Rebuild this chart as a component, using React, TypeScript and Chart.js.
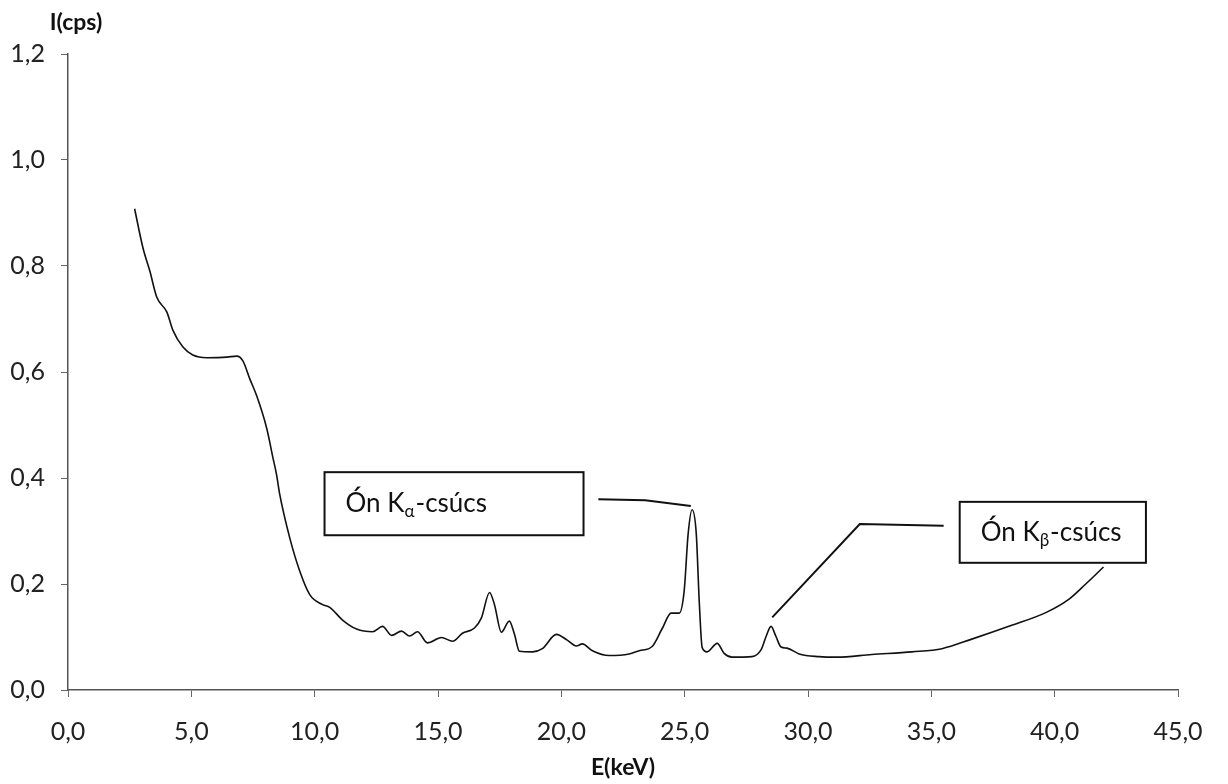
import React, { useEffect, useRef } from "react";
import { Chart, registerables } from "chart.js";

Chart.register(...registerables);

// ---- Data ----
const energyKeV = [
  2.7, 3.04, 3.32, 3.6, 4.01, 4.25, 4.66, 5.06, 5.63, 6.44, 6.84, 7.09, 7.37, 7.65,
  8.06, 8.3, 8.46, 8.58, 8.99, 9.39, 9.8, 10.32, 10.61, 11.13, 11.7, 12.35, 12.75,
  13.12, 13.52, 13.85, 14.17, 14.57, 15.14, 15.59, 15.99, 16.48, 16.76, 17.09, 17.29,
  17.57, 17.89, 18.1, 18.3, 18.83, 19.23, 19.8, 20.24, 20.61, 20.85, 21.26, 21.94,
  22.75, 23.16, 23.68, 24.09, 24.45, 24.78, 24.98, 25.14, 25.3, 25.47, 25.59, 25.71,
  25.91, 26.32, 26.6, 26.92, 27.73, 28.1, 28.3, 28.5, 28.7, 28.91, 29.15, 29.64,
  30.45, 31.17, 32.59, 34.21, 35.43, 36.64, 38.26, 39.64, 40.57, 41.26, 41.98,
];
const intensityCps = [
  0.908, 0.834, 0.79, 0.741, 0.713, 0.679, 0.647, 0.632, 0.627, 0.628, 0.63, 0.621,
  0.587, 0.555, 0.493, 0.44, 0.405, 0.37, 0.287, 0.225, 0.18, 0.161, 0.156, 0.132,
  0.115, 0.11, 0.12, 0.103, 0.111, 0.102, 0.11, 0.089, 0.099, 0.092, 0.107, 0.117,
  0.136, 0.184, 0.161, 0.109, 0.13, 0.105, 0.073, 0.072, 0.078, 0.105, 0.094, 0.083,
  0.087, 0.074, 0.065, 0.068, 0.074, 0.082, 0.116, 0.145, 0.145, 0.187, 0.294, 0.34,
  0.295, 0.168, 0.08, 0.072, 0.088, 0.069, 0.062, 0.063, 0.076, 0.101, 0.12, 0.101,
  0.081, 0.079, 0.068, 0.063, 0.062, 0.067, 0.072, 0.078, 0.096, 0.122, 0.146, 0.171,
  0.2, 0.232,
];

const xTickValues = [0, 5, 10, 15, 20, 25, 30, 35, 40, 45];
const yTickValues = [0, 0.2, 0.4, 0.6, 0.8, 1.0, 1.2];

const xAxisTitle = "E(keV)";
const yAxisTitle = "I(cps)";

// Callout labels: main text, subscript, tail
const calloutMain = ["Ón K", "Ón K"];
const calloutSub = ["α", "β"];
const calloutTail = ["-csúcs", "-csúcs"];
// Callout boxes in data units [xMin, xMax], [yMin, yMax]
const calloutBoxX = [
  [10.4, 20.9],
  [36.15, 43.7],
];
const calloutBoxY = [
  [0.292, 0.411],
  [0.24, 0.355],
];
// Leader lines in data units
const leaderX = [
  [21.5, 23.4, 25.25],
  [35.5, 32.1, 28.55],
];
const leaderY = [
  [0.36, 0.358, 0.347],
  [0.31, 0.313, 0.137],
];

const FONT = "Lato, 'Liberation Sans', 'DejaVu Sans', sans-serif";

const fmt = (v: number) => v.toFixed(1).replace(".", ",");

const calloutPlugin = {
  id: "callouts",
  afterDatasetsDraw(chart: any) {
    const { ctx, scales, chartArea } = chart;
    const xs = scales.x;
    const ys = scales.y;
    ctx.save();
    // leader lines
    ctx.strokeStyle = "#111";
    ctx.lineWidth = 2;
    for (let i = 0; i < leaderX.length; i++) {
      ctx.beginPath();
      for (let j = 0; j < leaderX[i].length; j++) {
        const px = xs.getPixelForValue(leaderX[i][j]);
        const py = ys.getPixelForValue(leaderY[i][j]);
        if (j === 0) ctx.moveTo(px, py);
        else ctx.lineTo(px, py);
      }
      ctx.stroke();
    }
    // boxes
    for (let i = 0; i < calloutBoxX.length; i++) {
      const l = xs.getPixelForValue(calloutBoxX[i][0]);
      const r = xs.getPixelForValue(calloutBoxX[i][1]);
      const t = ys.getPixelForValue(calloutBoxY[i][1]);
      const b = ys.getPixelForValue(calloutBoxY[i][0]);
      ctx.fillStyle = "#fff";
      ctx.fillRect(l, t, r - l, b - t);
      ctx.strokeStyle = "#111";
      ctx.lineWidth = 2;
      ctx.strokeRect(l, t, r - l, b - t);
      const cy = (t + b) / 2;
      let x = l + 21;
      ctx.fillStyle = "#111";
      ctx.textBaseline = "middle";
      ctx.textAlign = "left";
      ctx.font = `26px ${FONT}`;
      ctx.fillText(calloutMain[i], x, cy);
      x += ctx.measureText(calloutMain[i]).width;
      ctx.font = `17px ${FONT}`;
      ctx.fillText(calloutSub[i], x, cy + 8);
      x += ctx.measureText(calloutSub[i]).width + 1;
      ctx.font = `26px ${FONT}`;
      ctx.fillText(calloutTail[i], x, cy);
    }
    // y-axis title, horizontal at the top of the axis
    ctx.fillStyle = "#111";
    ctx.font = `bold 23px ${FONT}`;
    ctx.textAlign = "center";
    ctx.textBaseline = "middle";
    ctx.fillText(yAxisTitle, chartArea.left + 8, chartArea.top - 31);
    ctx.restore();
  },
};

export default function App() {
  const canvasRef = useRef<HTMLCanvasElement | null>(null);

  useEffect(() => {
    const canvas = canvasRef.current;
    if (!canvas) return;
    const points = energyKeV.map((x, i) => ({ x, y: intensityCps[i] }));
    const chart = new Chart(canvas, {
      type: "scatter",
      data: {
        datasets: [
          {
            data: points,
            showLine: true,
            borderColor: "#111",
            borderWidth: 1.6,
            pointRadius: 0,
            pointHoverRadius: 0,
            fill: false,
            cubicInterpolationMode: "monotone",
          },
        ],
      },
      options: {
        responsive: false,
        animation: false,
        layout: { padding: { top: 54, right: 50, bottom: 0, left: 0 } },
        plugins: {
          legend: { display: false },
          tooltip: { enabled: false },
          title: { display: false },
        },
        scales: {
          x: {
            type: "linear",
            min: 0,
            max: 45,
            afterBuildTicks: (s: any) => {
              s.ticks = xTickValues.map((v) => ({ value: v }));
            },
            afterFit: (s: any) => {
              s.height = 94;
            },
            ticks: {
              callback: (v: any) => fmt(Number(v)),
              font: { family: FONT, size: 25 },
              color: "#222",
              padding: 20,
              maxRotation: 0,
            },
            grid: {
              drawOnChartArea: false,
              drawTicks: true,
              tickLength: 7,
              color: "#666",
            },
            border: { display: true, color: "#555", width: 1.5, dash: [2, 1] },
            title: {
              display: true,
              text: xAxisTitle,
              font: { family: FONT, size: 23, weight: "bold" },
              color: "#111",
              padding: { top: 0, bottom: 3 },
            },
          },
          y: {
            type: "linear",
            min: 0,
            max: 1.2,
            afterBuildTicks: (s: any) => {
              s.ticks = yTickValues.map((v) => ({ value: v }));
            },
            afterFit: (s: any) => {
              s.width = 68;
            },
            ticks: {
              callback: (v: any) => fmt(Number(v)),
              font: { family: FONT, size: 25 },
              color: "#222",
              padding: 16,
            },
            grid: {
              drawOnChartArea: false,
              drawTicks: true,
              tickLength: 7,
              color: "#666",
            },
            border: { display: true, color: "#555", width: 1.5, dash: [2, 1] },
          },
        },
      },
      plugins: [calloutPlugin],
    } as any);
    return () => chart.destroy();
  }, []);

  return (
    <div style={{ position: "absolute", left: 0, top: 0, width: 1228, height: 784, background: "#fff" }}>
      <canvas ref={canvasRef} width={1228} height={784} style={{ display: "block" }} />
    </div>
  );
}
